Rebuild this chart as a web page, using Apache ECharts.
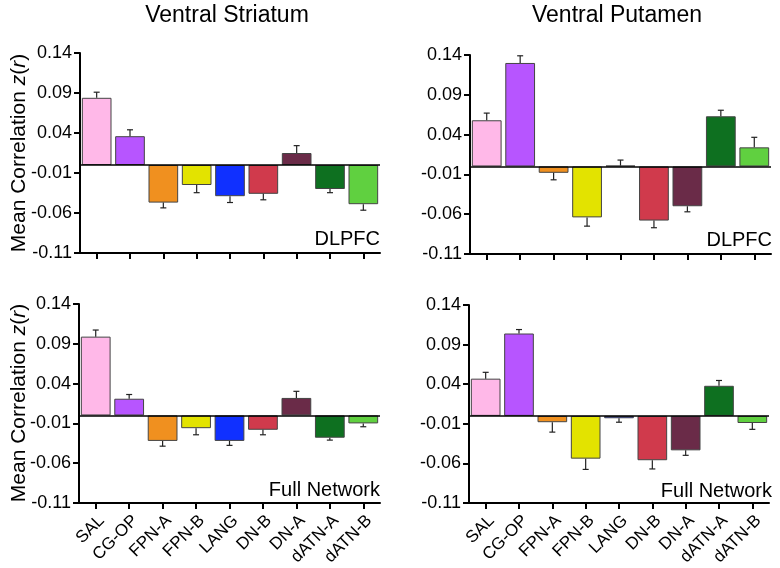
<!DOCTYPE html>
<html>
<head>
<meta charset="utf-8">
<script src="https://cdn.jsdelivr.net/npm/echarts@6/dist/echarts.min.js"></script>
<style>html,body{margin:0;padding:0;background:#fff}#c{width:780px;height:568px}</style>
</head>
<body>
<div id="c"></div>
<script>
const categories = ['SAL','CG-OP','FPN-A','FPN-B','LANG','DN-B','DN-A','dATN-A','dATN-B'];
const yTicks = [-0.11, -0.06, -0.01, 0.04, 0.09, 0.14];

// Ventral Striatum – DLPFC
const vsDlpfc    = [0.084, 0.036, -0.047, -0.025, -0.039, -0.036, 0.015, -0.030, -0.049];
const vsDlpfcErr = [0.007, 0.008, 0.0066, 0.0096, 0.0079, 0.0075, 0.0092, 0.0046, 0.0075];
// Ventral Putamen – DLPFC
const vpDlpfc    = [0.058, 0.130, -0.008, -0.064, 0.001, -0.068, -0.050, 0.063, 0.024];
const vpDlpfcErr = [0.009, 0.009, 0.0088, 0.011, 0.007, 0.009, 0.007, 0.0076, 0.0126];
// Ventral Striatum – Full Network
const vsFull     = [0.099, 0.021, -0.032, -0.016, -0.032, -0.018, 0.022, -0.028, -0.010];
const vsFullErr  = [0.0083, 0.0053, 0.0066, 0.0083, 0.0056, 0.0063, 0.0083, 0.003, 0.0042];
// Ventral Putamen – Full Network
const vpFull     = [0.047, 0.104, -0.008, -0.054, -0.003, -0.056, -0.0435, 0.038, -0.009];
const vpFullErr  = [0.008, 0.005, 0.0125, 0.0136, 0.005, 0.011, 0.0063, 0.0067, 0.008];

const colors = ['#FFB8E8','#B755FF','#F0901F','#E3E300','#1030FF','#D03A4C','#6A2B48','#0E7020','#60D040'];
const FONT = '"Liberation Sans", Arial, Helvetica, sans-serif';

const panels = [
  {vals: vsDlpfc, errs: vsDlpfcErr, grid: {left: 80, top: 53, width: 300, height: 200}, showX: false},
  {vals: vpDlpfc, errs: vpDlpfcErr, grid: {left: 470, top: 55, width: 301, height: 199}, showX: false},
  {vals: vsFull,  errs: vsFullErr,  grid: {left: 79, top: 304, width: 301, height: 199}, showX: true},
  {vals: vpFull,  errs: vpFullErr,  grid: {left: 469, top: 305, width: 300, height: 199}, showX: true}
];

const grids = [], xAxes = [], yAxes = [], series = [];
panels.forEach((p, k) => {
  grids.push(p.grid);
  xAxes.push({
    type: 'category', gridIndex: k, data: categories,
    axisLine: {onZero: false, lineStyle: {color: '#000', width: 2}},
    axisTick: {show: true, alignWithLabel: true, length: 6, lineStyle: {color: '#000', width: 2}},
    axisLabel: {show: p.showX, rotate: 45, interval: 0, fontSize: 17, color: '#000', fontFamily: FONT,
      margin: 9, align: 'right', verticalAlign: 'top'},
    splitLine: {show: false}
  });
  yAxes.push({
    type: 'value', gridIndex: k, min: -0.11, max: 0.14,
    axisLine: {show: true, lineStyle: {color: '#000', width: 2}},
    axisTick: {show: true, length: 6, customValues: yTicks, lineStyle: {color: '#000', width: 2}},
    axisLabel: {customValues: yTicks, fontSize: 18, color: '#000', fontFamily: FONT, margin: 8,
      formatter: v => v.toFixed(2)},
    splitLine: {show: false}
  });
  series.push({
    type: 'bar', xAxisIndex: k, yAxisIndex: k, barWidth: '89%',
    data: p.vals.map((v, i) => ({value: v, itemStyle: {color: colors[i]}})),
    itemStyle: {borderColor: '#444', borderWidth: 1},
    z: 2,
    markLine: {
      silent: true, symbol: ['none', 'none'], z: 5,
      label: {show: false},
      lineStyle: {color: '#000', width: 1.6, type: 'solid'},
      data: [{yAxis: 0}]
    }
  });
  series.push({
    type: 'custom', xAxisIndex: k, yAxisIndex: k, z: 3,
    data: p.vals.map((v, i) => [i, v, p.errs[i]]),
    encode: {x: 0, y: 1},
    renderItem: (params, api) => {
      const i = api.value(0), v = api.value(1), e = api.value(2);
      const end = v >= 0 ? v + e : v - e;
      const p0 = api.coord([i, v]);
      const p1 = api.coord([i, end]);
      const st = {stroke: '#222', lineWidth: 1.2};
      return {type: 'group', children: [
        {type: 'line', shape: {x1: p0[0], y1: p0[1], x2: p1[0], y2: p1[1]}, style: st},
        {type: 'line', shape: {x1: p1[0] - 3, y1: p1[1], x2: p1[0] + 3, y2: p1[1]}, style: st}
      ]};
    }
  });
});

function yName(cy) {
  return {
    type: 'text', x: 19, y: cy, rotation: Math.PI / 2,
    style: {
      text: '{a|Mean Correlation }{b|z}{a|(}{b|r}{a|)}',
      align: 'center', verticalAlign: 'middle',
      rich: {
        a: {fontSize: 21, fontFamily: FONT, fill: '#000'},
        b: {fontSize: 21, fontFamily: FONT, fontStyle: 'italic', fill: '#000'}
      }
    }
  };
}
function txt(x, y, s, size, align) {
  return {type: 'text', x: x, y: y,
    style: {text: s, fontSize: size, fontFamily: FONT, fill: '#000', align: align, verticalAlign: 'middle'}};
}

const chart = echarts.init(document.getElementById('c'), null, {renderer: 'canvas'});
chart.setOption({
  animation: false,
  backgroundColor: '#fff',
  grid: grids, xAxis: xAxes, yAxis: yAxes, series: series,
  graphic: [
    txt(227, 16, 'Ventral Striatum', 23, 'center'),
    txt(617, 16, 'Ventral Putamen', 23, 'center'),
    yName(153), yName(403),
    txt(380, 239, 'DLPFC', 20, 'right'),
    txt(772, 240, 'DLPFC', 20, 'right'),
    txt(380, 490, 'Full Network', 20, 'right'),
    txt(772, 491, 'Full Network', 20, 'right')
  ]
});
</script>
</body>
</html>
